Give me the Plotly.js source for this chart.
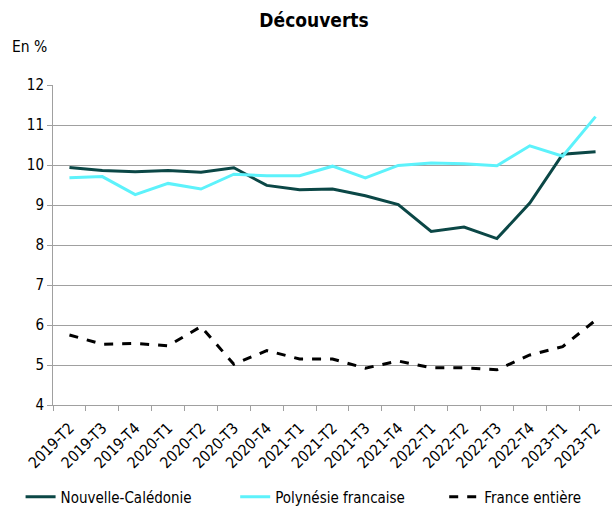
<!DOCTYPE html>
<html>
<head>
<meta charset="utf-8">
<script src="https://cdn.plot.ly/plotly-3.0.1.min.js"></script>
<style>html,body{margin:0;padding:0;background:#fff;}#chart{width:612px;height:511px;}</style>
</head>
<body>
<div id="chart"></div>
<script>
const quarters = ["2019-T2","2019-T3","2019-T4","2020-T1","2020-T2","2020-T3","2020-T4","2021-T1","2021-T2","2021-T3","2021-T4","2022-T1","2022-T2","2022-T3","2022-T4","2023-T1","2023-T2"];
const nouvelleCaledonie = [9.94,9.86,9.83,9.86,9.82,9.93,9.49,9.38,9.40,9.23,9.01,8.34,8.45,8.16,9.05,10.27,10.33];
const polynesie = [9.68,9.71,9.26,9.54,9.40,9.77,9.73,9.73,9.97,9.68,9.99,10.05,10.03,9.98,10.48,10.22,11.21];
const franceEntiere = [5.75,5.52,5.54,5.48,5.96,5.02,5.36,5.15,5.15,4.92,5.10,4.93,4.93,4.88,5.25,5.46,6.12];
const seriesNames = ["Nouvelle-Calédonie", "Polynésie francaise", "France entière"];
const yTicks = [4,5,6,7,8,9,10,11,12];

const FONT = "DejaVu Sans Condensed, DejaVu Sans, sans-serif";
const NB = "\u00a0";

const traces = [
  {x: quarters, y: nouvelleCaledonie, name: seriesNames[0] + NB.repeat(9), type: "scatter", mode: "lines",
   line: {color: "#0b4746", width: 3}},
  {x: quarters, y: polynesie, name: seriesNames[1] + NB.repeat(8), type: "scatter", mode: "lines",
   line: {color: "#5df2fb", width: 3}},
  {x: quarters, y: franceEntiere, name: seriesNames[2], type: "scatter", mode: "lines",
   line: {color: "#000000", width: 3, dash: "dash"}}
];

const layout = {
  width: 612, height: 511,
  margin: {l: 53, r: 0, t: 85, b: 106, autoexpand: false},
  paper_bgcolor: "#fff", plot_bgcolor: "#fff",
  font: {family: FONT, size: 13, color: "#000"},
  title: {text: "<b>Découverts</b>", font: {family: FONT, size: 19, color: "#000"},
          x: 0.467, xref: "paper", xanchor: "center", y: 0.96, yref: "container", yanchor: "middle"},
  xaxis: {type: "category", tickangle: -45, tickson: "boundaries", ticks: "outside", ticklen: 5,
          tickcolor: "#a0a0a0", showline: true, linecolor: "#a0a0a0", linewidth: 1, showgrid: false,
          tickfont: {family: FONT, size: 15.5, color: "#000"}, ticklabelstandoff: 7,
          range: [-0.5, 16.5], fixedrange: true, automargin: false},
  yaxis: {range: [4, 12], tickvals: yTicks, ticks: "outside", ticklen: 5, tickcolor: "#a0a0a0",
          showline: true, linecolor: "#a0a0a0", linewidth: 1, gridcolor: "#a0a0a0", gridwidth: 1,
          zeroline: false, tickfont: {family: FONT, size: 15, color: "#000"}, automargin: false},
  showlegend: true,
  legend: {orientation: "h", x: -0.058, xanchor: "left", y: -0.2875, yanchor: "middle",
           font: {family: FONT, size: 15, color: "#000"}, traceorder: "normal"},
  annotations: [
    {text: "En %", xref: "paper", yref: "paper", x: -0.077, y: 1.12, xanchor: "left", yanchor: "middle",
     showarrow: false, font: {family: FONT, size: 15.5, color: "#000"}}
  ]
};

Plotly.newPlot("chart", traces, layout, {displayModeBar: false, staticPlot: true});
</script>
</body>
</html>
